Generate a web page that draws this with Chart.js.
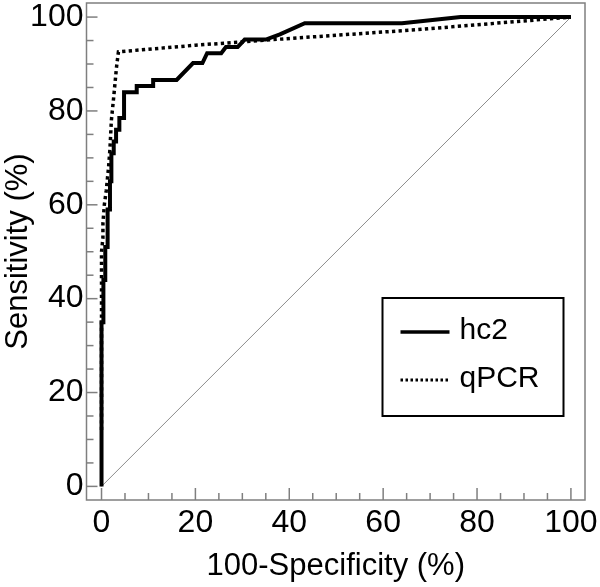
<!DOCTYPE html>
<html>
<head>
<meta charset="utf-8">
<script src="https://cdn.jsdelivr.net/npm/chart.js@4"></script>
<style>
    html, body { margin: 0; padding: 0; background: #fff; }
    #wrap { width: 600px; height: 587px; }
</style>
</head>
<body>
<div id="wrap"><canvas id="roc"></canvas></div>
<script>
// ROC curves (x = 100-Specificity, y = Sensitivity)
const hc2X = [0, 0, 0.4, 0.4, 0.8, 0.8, 1.3, 1.3, 1.8, 1.8, 2.1, 2.1, 2.6, 2.6, 3.1, 3.1, 3.8, 3.8, 4.8, 4.8,
    7.5, 7.5, 11, 11, 16, 19.5, 21.5, 22.5, 25.5, 26.5, 29, 30.5, 35, 38, 43.3, 64, 76.5, 100];
const hc2Y = [0, 35, 35, 44, 44, 51, 51, 59, 59, 65, 65, 71, 71, 73.5, 73.5, 76, 76, 78.5, 78.5, 84,
    84, 85.3, 85.3, 86.6, 86.6, 90.2, 90.2, 92.3, 92.3, 93.6, 93.6, 95.2, 95.2, 96.3, 98.7, 98.7, 100, 100];

const qpcrX = [0, 0, 0.3, 0.3, 0.6, 1.0, 1.5, 1.8, 2.1, 2.6, 3.2, 3.6, 20, 38, 67, 100];
const qpcrY = [12, 50, 53, 56, 60, 63, 68, 72, 78, 83, 89.4, 92.6, 94.0, 95.3, 97.3, 100];

// reference diagonal
const diagX = [0, 100];
const diagY = [0, 100];

const seriesNames = ['hc2', 'qPCR'];
const xTickVals = [0, 20, 40, 60, 80, 100];
const yTickVals = [0, 20, 40, 60, 80, 100];
const minorStep = 5;

const FONT = '"Liberation Sans", Arial, sans-serif';
const GRAY = '#7f7f7f';

function toPoints(xs, ys) {
    return xs.map((x, i) => ({ x: x, y: ys[i] }));
}

// keep tick labels from pushing the plot area around
function noPad(s) {
    s.paddingTop = 0;
    s.paddingBottom = 0;
    s.paddingLeft = 0;
    s.paddingRight = 0;
}

// frame + inward tick marks
const framePlugin = {
    id: 'frame',
    afterDraw(chart) {
        const { ctx, chartArea: a, scales } = chart;
        ctx.save();
        ctx.strokeStyle = GRAY;
        ctx.lineWidth = 1.5;
        ctx.strokeRect(a.left, a.top, a.right - a.left, a.bottom - a.top);
        for (let v = 0; v <= 100; v += minorStep) {
            const major = v % 20 === 0;
            const px = scales.x.getPixelForValue(v);
            ctx.beginPath();
            ctx.moveTo(px, a.bottom);
            ctx.lineTo(px, a.bottom - (major ? 12 : 7));
            ctx.stroke();
            const py = scales.y.getPixelForValue(v);
            ctx.beginPath();
            ctx.moveTo(a.left, py);
            ctx.lineTo(a.left + (major ? 11 : 7), py);
            ctx.stroke();
        }
        ctx.restore();
    }
};

// boxed legend in the lower right of the plot
const legendBox = {
    id: 'legendBox',
    afterDraw(chart) {
        const { ctx, chartArea: a } = chart;
        const left = a.left + 296, top = a.top + 295, w = 181, h = 118;
        ctx.save();
        ctx.fillStyle = '#fff';
        ctx.fillRect(left, top, w, h);
        ctx.strokeStyle = '#000';
        ctx.lineWidth = 2;
        ctx.strokeRect(left, top, w, h);
        const rows = [top + 34, top + 82];
        chart.data.datasets.slice(0, 2).forEach((ds, i) => {
            ctx.beginPath();
            ctx.strokeStyle = ds.borderColor;
            ctx.lineWidth = i === 0 ? 3.5 : 3;
            ctx.setLineDash(i === 0 ? [] : [2.5, 2.5]);
            ctx.moveTo(left + 18, rows[i]);
            ctx.lineTo(left + 67, rows[i]);
            ctx.stroke();
            ctx.setLineDash([]);
            ctx.fillStyle = '#000';
            ctx.font = '30px ' + FONT;
            ctx.textBaseline = 'middle';
            ctx.fillText(ds.label, left + 77, rows[i] - 1);
        });
        ctx.restore();
    }
};

new Chart(document.getElementById('roc'), {
    type: 'scatter',
    data: {
        datasets: [
            {
                label: seriesNames[0],
                data: toPoints(hc2X, hc2Y),
                showLine: true,
                borderColor: '#000',
                borderWidth: 4,
                pointRadius: 0,
                tension: 0
            },
            {
                label: seriesNames[1],
                data: toPoints(qpcrX, qpcrY),
                showLine: true,
                borderColor: '#000',
                borderWidth: 3.5,
                borderDash: [3.3, 3.3],
                borderCapStyle: 'butt',
                pointRadius: 0,
                tension: 0
            },
            {
                label: 'diagonal',
                data: toPoints(diagX, diagY),
                showLine: true,
                borderColor: '#8c8c8c',
                borderWidth: 1,
                pointRadius: 0
            }
        ]
    },
    options: {
        responsive: true,
        maintainAspectRatio: false,
        animation: false,
        layout: { autoPadding: false, padding: { top: 3, right: 15, left: 0, bottom: 0 } },
        plugins: {
            legend: { display: false },
            tooltip: { enabled: false }
        },
        scales: {
            x: {
                type: 'linear',
                min: -3.2,
                max: 103,
                afterBuildTicks: s => { s.ticks = xTickVals.map(v => ({ value: v })); },
                afterFit: s => { s.height = 87; noPad(s); },
                grid: { display: false, drawTicks: false },
                border: { display: false },
                ticks: {
                    color: '#000',
                    padding: 4,
                    font: { family: FONT, size: 32 }
                },
                title: {
                    display: true,
                    text: '100-Specificity (%)',
                    color: '#000',
                    padding: { top: 0, bottom: 2 },
                    font: { family: FONT, size: 31 }
                }
            },
            y: {
                type: 'linear',
                min: -2.9,
                max: 103,
                afterBuildTicks: s => { s.ticks = yTickVals.map(v => ({ value: v })); },
                afterFit: s => { s.width = 86.5; noPad(s); },
                grid: { display: false, drawTicks: false },
                border: { display: false },
                ticks: {
                    color: '#000',
                    padding: 3,
                    font: { family: FONT, size: 32 }
                },
                title: {
                    display: true,
                    text: 'Sensitivity (%)',
                    color: '#000',
                    padding: { top: 0, bottom: 0 },
                    font: { family: FONT, size: 31 }
                }
            }
        }
    },
    plugins: [framePlugin, legendBox]
});
</script>
</body>
</html>
